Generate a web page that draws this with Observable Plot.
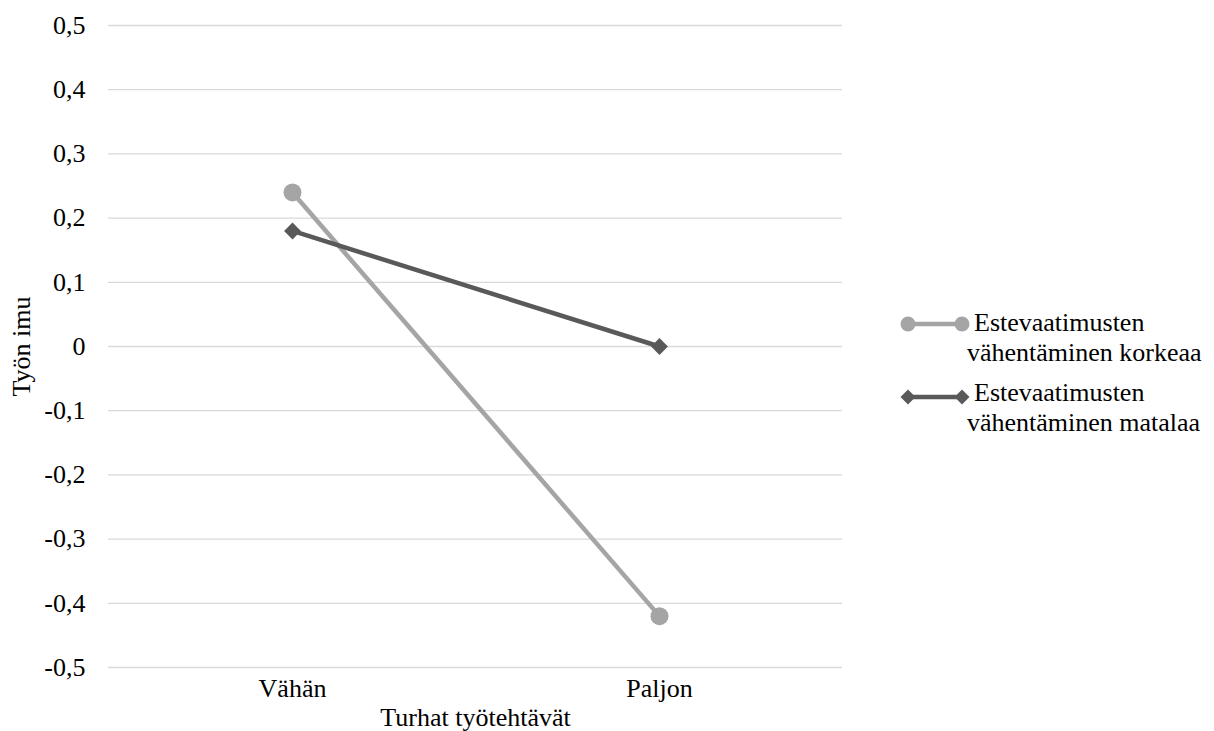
<!DOCTYPE html>
<html>
<head>
<meta charset="utf-8">
<script src="https://cdn.jsdelivr.net/npm/d3@7"></script>
<script src="https://cdn.jsdelivr.net/npm/@observablehq/plot@0.6"></script>
<style>
  html, body { margin: 0; padding: 0; background: #fff; }
  #wrap { position: relative; width: 1214px; height: 731px; }
  #wrap, #wrap * { font-family: "Liberation Serif", "Times New Roman", serif !important; }
  .leg { position: absolute; font-size: 26px; line-height: 30px; color: #000; white-space: nowrap; }
  .legtext { position: absolute; left: 967px; text-indent: 7px; }
  .legsym { position: absolute; left: 895px; }
</style>
</head>
<body>
<div id="wrap"></div>
<script>
const categories = ["Vähän", "Paljon"];
const seriesNames = ["Estevaatimusten vähentäminen korkeaa", "Estevaatimusten vähentäminen matalaa"];
const korkeaa = [0.24, -0.42];
const matalaa = [0.18, 0.00];
const yTicks = [0.5, 0.4, 0.3, 0.2, 0.1, 0, -0.1, -0.2, -0.3, -0.4, -0.5];
const xTitle = "Turhat työtehtävät";
const yTitle = "Työn imu";

const colors = ["#a5a5a5", "#595959"];

const data1 = categories.map((c, i) => ({ cat: c, value: korkeaa[i] }));
const data2 = categories.map((c, i) => ({ cat: c, value: matalaa[i] }));

const fmt = d => String(Math.round(d * 10) / 10).replace(".", ",");

const chart = Plot.plot({
  width: 1214,
  height: 731,
  marginLeft: 108,
  marginRight: 372,
  marginTop: 25,
  marginBottom: 64,
  style: { fontFamily: "'Liberation Serif', 'Times New Roman', serif", fontSize: "26px", color: "#000", background: "#fff", overflow: "visible" },
  x: { type: "point", domain: categories, padding: 0.5, label: null },
  y: { domain: [-0.5, 0.5], label: null },
  marks: [
    Plot.gridY(yTicks, { stroke: "#d9d9d9", strokeOpacity: 1, strokeWidth: 1.3 }),
    Plot.axisY(yTicks, { tickSize: 0, tickPadding: 23, tickFormat: fmt, fontSize: 26, fill: "#000", label: null }),
    Plot.axisX({ tickSize: 0, tickPadding: 11, fontSize: 26, fill: "#000", label: null }),
    Plot.line(data1, { x: "cat", y: "value", stroke: colors[0], strokeWidth: 4.5 }),
    Plot.dot(data1, { x: "cat", y: "value", r: 9, fill: colors[0], stroke: "none", symbol: "circle" }),
    Plot.line(data2, { x: "cat", y: "value", stroke: colors[1], strokeWidth: 4.5 }),
    Plot.dot(data2, { x: "cat", y: "value", r: 7.6, fill: colors[1], stroke: "none", symbol: "diamond2" }),
    Plot.text([xTitle], { frameAnchor: "bottom", textAnchor: "middle", lineAnchor: "middle", dy: 50, fontSize: 26, fill: "#000" }),
    Plot.text([yTitle], { frameAnchor: "left", textAnchor: "middle", lineAnchor: "middle", rotate: -90, dx: -87, fontSize: 26, fill: "#000" })
  ]
});

const wrap = document.getElementById("wrap");
wrap.appendChild(chart);

// Legend (HTML overlay on the right)
const legendTops = [308, 378];
const symY = [324, 397];
seriesNames.forEach((name, i) => {
  const t = document.createElement("div");
  t.className = "leg legtext";
  t.style.top = legendTops[i] + "px";
  const parts = name.split(" ");
  t.innerHTML = parts[0] + "<br>" + parts.slice(1).join(" ");
  wrap.appendChild(t);

  const ns = "http://www.w3.org/2000/svg";
  const s = document.createElementNS(ns, "svg");
  s.setAttribute("class", "legsym");
  s.setAttribute("width", 80);
  s.setAttribute("height", 24);
  s.style.top = (symY[i] - 12) + "px";
  const ln = document.createElementNS(ns, "line");
  ln.setAttribute("x1", 13); ln.setAttribute("x2", 67);
  ln.setAttribute("y1", 12); ln.setAttribute("y2", 12);
  ln.setAttribute("stroke", colors[i]); ln.setAttribute("stroke-width", 4.5);
  s.appendChild(ln);
  [13, 67].forEach(cx => {
    let m;
    if (i === 0) {
      m = document.createElementNS(ns, "circle");
      m.setAttribute("cx", cx); m.setAttribute("cy", 12); m.setAttribute("r", 7.5);
    } else {
      m = document.createElementNS(ns, "path");
      m.setAttribute("d", `M${cx},${12 - 7.5}L${cx + 7.5},12L${cx},${12 + 7.5}L${cx - 7.5},12Z`);
    }
    m.setAttribute("fill", colors[i]);
    s.appendChild(m);
  });
  wrap.appendChild(s);
});
</script>
</body>
</html>
